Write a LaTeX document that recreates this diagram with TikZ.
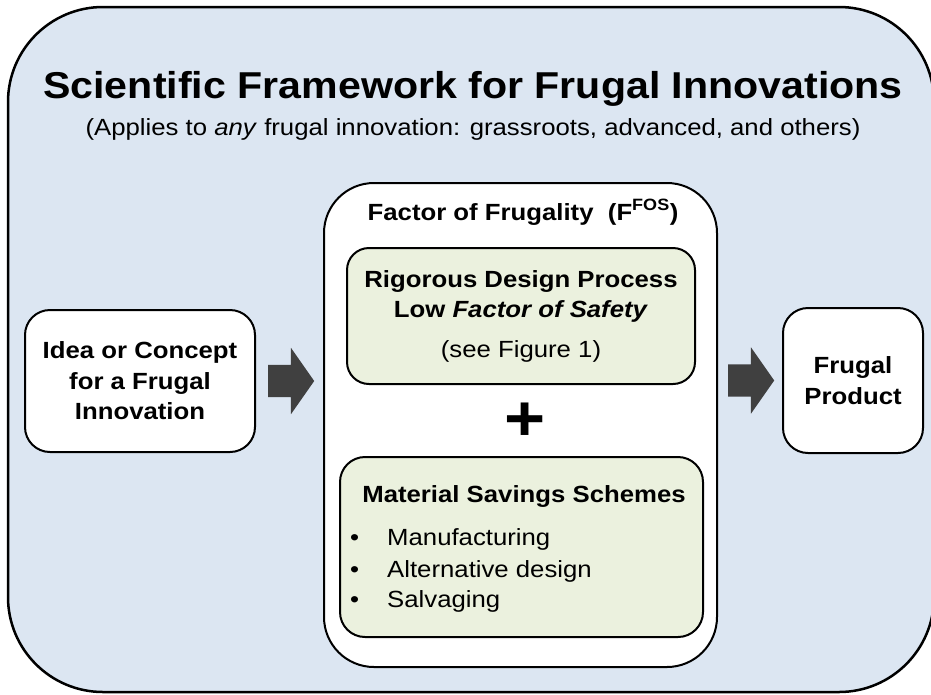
\documentclass[tikz,border=0pt]{standalone}
\usepackage{fontspec}
\setmainfont[FakeStretch=1.1]{Liberation Sans}
\usepackage{xcolor}
\usetikzlibrary{calc,shapes,shapes.arrows,positioning}
\definecolor{frameblue}{RGB}{220,230,242}
\definecolor{boxgreen}{RGB}{235,241,222}
\definecolor{arrowgray}{RGB}{64,64,64}
\newcommand{\boxfont}{\fontsize{23.4}{30.5}\selectfont}

\begin{document}
\begin{tikzpicture}[x=1pt,y=-1pt,
    whitebox/.style={draw, line width=2pt, fill=white, rounded corners=25pt, align=center, font=\boxfont\bfseries},
    greenbox/.style={draw, line width=2pt, fill=boxgreen, rounded corners=22pt, align=center, font=\boxfont\bfseries},
    blockarrow/.style={single arrow, fill=arrowgray, inner sep=16pt, minimum height=46pt, anchor=tail,
        single arrow head extend=17pt, single arrow tip angle=110}]
    \useasboundingbox (0,0) rectangle (931,694);
    \draw[fill=frameblue, line width=2.5pt, rounded corners=95pt] (8,7) rectangle (934,692);

    \node[anchor=base, font=\fontsize{37.4}{40}\selectfont\bfseries] (title) at (473,98) {Scientific Framework for Frugal Innovations};
    \node[anchor=base, font=\boxfont] (subtitle) at (473,135) {(Applies to \textit{any} frugal innovation: grassroots, advanced, and others)};

    \node[whitebox, minimum width=230pt, minimum height=142pt] (idea) at (140,381) {Idea or Concept\\for a Frugal\\Innovation};
    \node[whitebox, rounded corners=50pt, minimum width=393pt, minimum height=484pt] (fof) at (520.5,425) {};
    \node[whitebox, minimum width=140pt, minimum height=145pt] (product) at (853,380.5) {Frugal\\Product};

    \node[anchor=base, font=\boxfont\bfseries] (foftitle) at (523,220) {Factor of Frugality\ \ (F\textsuperscript{FOS})};
    \node[greenbox, minimum width=348pt, minimum height=136pt] (rigor) at (521,316)
        {Rigorous Design Process\\Low \textit{Factor of Safety}\\[9pt]\mdseries (see Figure 1)};
    \node[anchor=base, font=\fontsize{64}{64}\selectfont\bfseries] (plus) at (525,440) {+};
    \node[greenbox, rounded corners=25pt, minimum width=363pt, minimum height=180pt] (savings) at (521.5,547) {};
    \node[anchor=base, font=\boxfont\bfseries] (savingstitle) at (524,502) {Material Savings Schemes};
    \foreach \item/\ypos in {Manufacturing/545, Alternative design/577, Salvaging/607} {
        \node[anchor=base west, font=\boxfont, inner sep=0pt] at (350,\ypos) {•};
        \node[anchor=base west, font=\boxfont, inner sep=0pt] at (387,\ypos) {\item};
    }

    \node[blockarrow] (arrowin) at ($(idea.east)+(12,0)$) {};
    \node[blockarrow] (arrowout) at ($(product.west -| fof.east)+(10,0)$) {};
\end{tikzpicture}
\end{document}
